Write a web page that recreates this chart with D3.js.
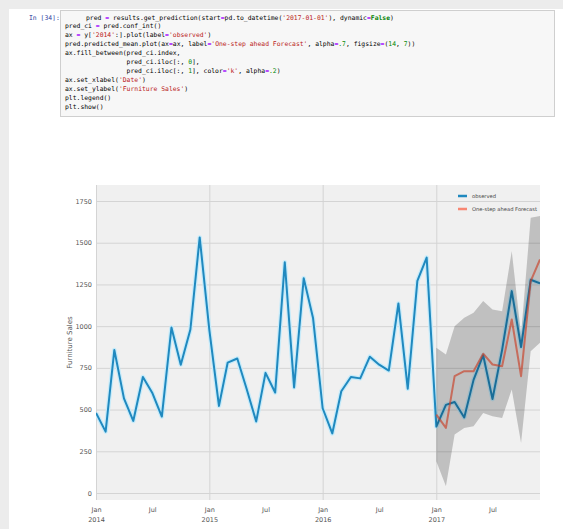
<!DOCTYPE html>
<html>
<head>
<meta charset="utf-8">
<script src="https://cdn.jsdelivr.net/npm/d3@7"></script>
<style>
    html, body { margin: 0; padding: 0; background: #fff; overflow: hidden; }
    svg { display: block; }
</style>
</head>
<body>
<svg id="chart" width="563" height="529"></svg>
<script>
// monthly furniture sales (observed), 2014-01 .. 2017-12
const months = [
    '2014-01', '2014-02', '2014-03', '2014-04', '2014-05', '2014-06', '2014-07', '2014-08', '2014-09', '2014-10', '2014-11', '2014-12',
    '2015-01', '2015-02', '2015-03', '2015-04', '2015-05', '2015-06', '2015-07', '2015-08', '2015-09', '2015-10', '2015-11', '2015-12',
    '2016-01', '2016-02', '2016-03', '2016-04', '2016-05', '2016-06', '2016-07', '2016-08', '2016-09', '2016-10', '2016-11', '2016-12',
    '2017-01', '2017-02', '2017-03', '2017-04', '2017-05', '2017-06', '2017-07', '2017-08', '2017-09', '2017-10', '2017-11', '2017-12'
];
const observed = [
    480, 368, 857, 567, 432, 695, 601, 458, 992, 769, 980, 1532,
    978, 522, 781, 806, 625, 429, 720, 602, 1383, 633, 1287, 1049,
    508, 357, 610, 695, 687, 817, 769, 734, 1136, 625, 1271, 1411,
    398, 528, 545, 453, 678, 826, 563, 858, 1210, 875, 1278, 1256
];

// one-step ahead forecast and its confidence band, 2017
const forecastMonths = [
    '2017-01', '2017-02', '2017-03', '2017-04', '2017-05', '2017-06',
    '2017-07', '2017-08', '2017-09', '2017-10', '2017-11', '2017-12'
];
const forecast = [470, 390, 700, 730, 730, 835, 770, 760, 1040, 700, 1270, 1400];
const ciLower  = [190,  40, 350, 390, 400, 480, 460, 450,  620, 300,  850,  900];
const ciUpper  = [870, 830, 1000, 1050, 1080, 1150, 1100, 1090, 1450, 950, 1650, 1660];

const yTicks = [0, 250, 500, 750, 1000, 1250, 1500, 1750];
const xTickMonths = ['2014-01', '2014-07', '2015-01', '2015-07', '2016-01', '2016-07', '2017-01', '2017-07'];
const xTickLabels = [['Jan', '2014'], ['Jul'], ['Jan', '2015'], ['Jul'], ['Jan', '2016'], ['Jul'], ['Jan', '2017'], ['Jul']];
const legendLabels = ['observed', 'One-step ahead Forecast'];

const codeLines = [
    "pred = results.get_prediction(start=pd.to_datetime('2017-01-01'), dynamic=False)",
    "pred_ci = pred.conf_int()",
    "ax = y['2014':].plot(label='observed')",
    "pred.predicted_mean.plot(ax=ax, label='One-step ahead Forecast', alpha=.7, figsize=(14, 7))",
    "ax.fill_between(pred_ci.index,",
    "                pred_ci.iloc[:, 0],",
    "                pred_ci.iloc[:, 1], color='k', alpha=.2)",
    "ax.set_xlabel('Date')",
    "ax.set_ylabel('Furniture Sales')",
    "plt.legend()",
    "plt.show()"
];

const svg = d3.select('#chart');
const parse = d3.timeParse('%Y-%m');

// ---- notebook cell ----
svg.append('rect').attr('width', 563).attr('height', 529).attr('fill', '#ececec');
svg.append('rect').attr('x', 9).attr('y', 9).attr('width', 554).attr('height', 520).attr('fill', '#fff');
svg.append('rect')
    .attr('x', 60.5).attr('y', 10.5).attr('width', 494).attr('height', 106)
    .attr('fill', '#f7f7f7').attr('stroke', '#cfcfcf');

svg.append('text')
    .attr('x', 29).attr('y', 19.5)
    .attr('font-family', 'DejaVu Sans Mono, monospace')
    .attr('font-size', 6.4)
    .attr('fill', '#303F9F')
    .text('In [34]:');

// a very small highlighter: strings, numbers, keywords, operators
function tokens(line) {
    const re = /('[^']*')|(\bFalse\b|\bTrue\b)|(\b\d+\b|\.\d+)|(=)|([^'=\d.FT]+|.)/g;
    const out = [];
    let m;
    while ((m = re.exec(line)) !== null) {
        let color = '#000', weight = 'normal';
        if (m[1]) color = '#BA2121';
        else if (m[2]) { color = '#008000'; weight = 'bold'; }
        else if (m[3]) color = '#008800';
        else if (m[4]) color = '#AA22FF';
        out.push({ t: m[0], color, weight });
    }
    return out;
}

const code = svg.append('g')
    .attr('font-family', 'DejaVu Sans Mono, monospace')
    .attr('font-size', 6.4);

codeLines.forEach((line, i) => {
    const t = code.append('text')
        .attr('x', i === 0 ? 86 : 65)
        .attr('y', 19.5 + i * 8.9)
        .attr('xml:space', 'preserve')
        .style('white-space', 'pre');
    tokens(line).forEach(tk => {
        t.append('tspan').attr('fill', tk.color).attr('font-weight', tk.weight).text(tk.t);
    });
});

// ---- chart ----
const plot = { left: 96, right: 540, top: 185, bottom: 500 };

const x = d3.scaleTime()
    .domain([parse(months[0]), parse(months[months.length - 1])])
    .range([plot.left, plot.right]);

const y = d3.scaleLinear()
    .domain([-42, 1846])
    .range([plot.bottom, plot.top]);

svg.append('defs').append('clipPath').attr('id', 'plot-clip')
    .append('rect')
    .attr('x', plot.left).attr('y', plot.top)
    .attr('width', plot.right - plot.left).attr('height', plot.bottom - plot.top);

svg.append('rect')
    .attr('x', plot.left).attr('y', plot.top)
    .attr('width', plot.right - plot.left).attr('height', plot.bottom - plot.top)
    .attr('fill', '#f0f0f0');

// grid
const yGrid = svg.append('g')
    .attr('transform', `translate(${plot.left},0)`)
    .call(d3.axisLeft(y).tickValues(yTicks).tickSize(-(plot.right - plot.left)).tickFormat(''));
yGrid.select('.domain').remove();
yGrid.selectAll('line').attr('stroke', '#d4d4d4').attr('stroke-width', 1);

const janTicks = xTickMonths.filter(m => m.endsWith('-01')).map(parse);
const xGrid = svg.append('g')
    .attr('transform', `translate(0,${plot.bottom})`)
    .call(d3.axisBottom(x).tickValues(janTicks).tickSize(-(plot.bottom - plot.top)).tickFormat(''));
xGrid.select('.domain').remove();
xGrid.selectAll('line').attr('stroke', '#d4d4d4').attr('stroke-width', 1);

// y tick labels
const yAxis = svg.append('g')
    .attr('transform', `translate(${plot.left},0)`)
    .call(d3.axisLeft(y).tickValues(yTicks).tickSize(0).tickPadding(4).tickFormat(d3.format('d')));
yAxis.select('.domain').remove();
yAxis.selectAll('text')
    .attr('font-family', 'DejaVu Sans, sans-serif')
    .attr('font-size', 6.5)
    .attr('fill', '#555');

// x tick labels (two lines on January)
const xAxis = svg.append('g')
    .attr('transform', `translate(0,${plot.bottom})`)
    .call(d3.axisBottom(x).tickValues(xTickMonths.map(parse)).tickSize(0).tickFormat(''));
xAxis.select('.domain').remove();
xAxis.selectAll('.tick').each(function (d, i) {
    const t = d3.select(this).append('text')
        .attr('font-family', 'DejaVu Sans, sans-serif')
        .attr('font-size', 6.5)
        .attr('fill', '#555')
        .attr('text-anchor', 'middle');
    xTickLabels[i].forEach((s, j) => {
        t.append('tspan').attr('x', 0).attr('y', 12 + j * 10).text(s);
    });
});

svg.append('text')
    .attr('transform', `translate(72,${(plot.top + plot.bottom) / 2}) rotate(-90)`)
    .attr('text-anchor', 'middle')
    .attr('font-family', 'DejaVu Sans, sans-serif')
    .attr('font-size', 7)
    .attr('fill', '#555')
    .text('Furniture Sales');

// series
const obsData = months.map((m, i) => ({ date: parse(m), value: observed[i] }));
const fcData = forecastMonths.map((m, i) => ({ date: parse(m), value: forecast[i], lo: ciLower[i], hi: ciUpper[i] }));

const line = d3.line().x(d => x(d.date)).y(d => y(d.value));
const plotG = svg.append('g').attr('clip-path', 'url(#plot-clip)');

plotG.append('path').datum(obsData)
    .attr('d', line).attr('fill', 'none')
    .attr('stroke', '#c6ebfa').attr('stroke-width', 4.5).attr('stroke-linejoin', 'round');
plotG.append('path').datum(obsData)
    .attr('d', line).attr('fill', 'none')
    .attr('stroke', '#2089bf').attr('stroke-width', 2).attr('stroke-linejoin', 'round');

plotG.append('path').datum(fcData)
    .attr('d', line).attr('fill', 'none')
    .attr('stroke', '#fc4f30').attr('stroke-opacity', 0.65)
    .attr('stroke-width', 2).attr('stroke-linejoin', 'round');

const band = d3.area().x(d => x(d.date)).y0(d => y(d.lo)).y1(d => y(d.hi));
plotG.append('path').datum(fcData)
    .attr('d', band).attr('fill', '#000').attr('fill-opacity', 0.2);

// legend
const legend = svg.append('g')
    .attr('font-family', 'DejaVu Sans, sans-serif')
    .attr('font-size', 5.2)
    .attr('fill', '#444');
const legendColors = [{ c: '#2089bf', o: 1 }, { c: '#fc4f30', o: 0.65 }];
legendLabels.forEach((label, i) => {
    const ly = 196 + i * 13;
    legend.append('line')
        .attr('x1', 458).attr('x2', 467).attr('y1', ly).attr('y2', ly)
        .attr('stroke', legendColors[i].c).attr('stroke-opacity', legendColors[i].o)
        .attr('stroke-width', 2.5);
    legend.append('text')
        .attr('x', 472).attr('y', ly).attr('dy', '0.35em')
        .text(label);
});
</script>
</body>
</html>
